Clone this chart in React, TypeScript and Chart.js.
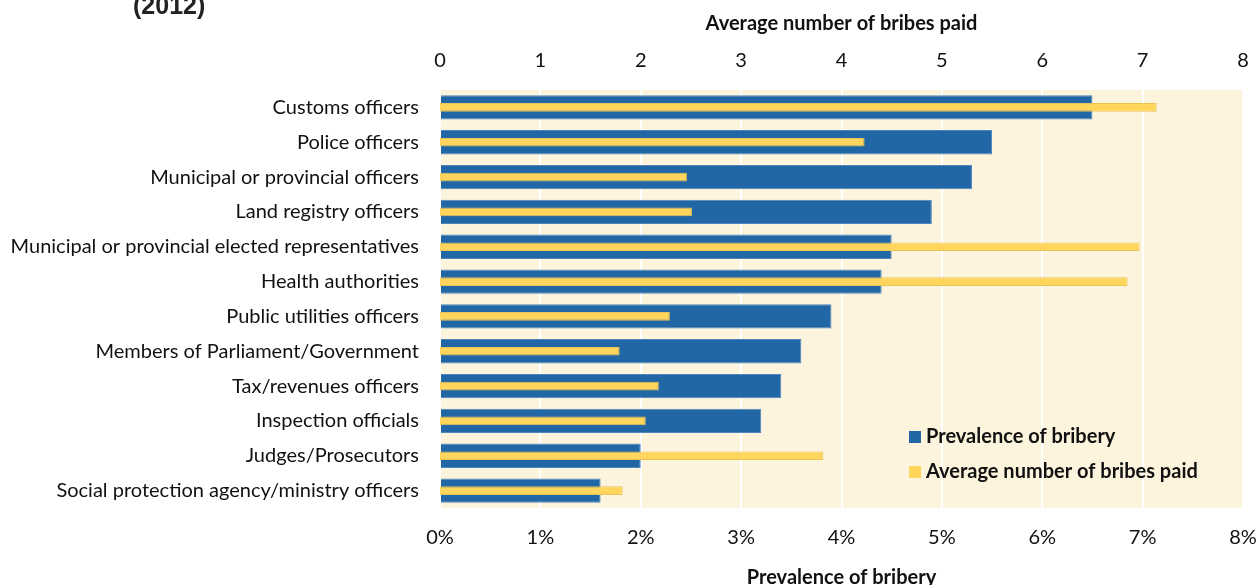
import React, { useEffect, useRef } from "react";
import { Chart, registerables } from "chart.js";

Chart.register(...registerables);

const categories = [
  "Customs officers",
  "Police officers",
  "Municipal or provincial officers",
  "Land registry officers",
  "Municipal or provincial elected representatives",
  "Health authorities",
  "Public utilities officers",
  "Members of Parliament/Government",
  "Tax/revenues officers",
  "Inspection officials",
  "Judges/Prosecutors",
  "Social protection agency/ministry officers",
];

// Prevalence of bribery (%), bottom axis
const prevalence = [6.5, 5.5, 5.3, 4.9, 4.5, 4.4, 3.9, 3.6, 3.4, 3.2, 2.0, 1.6];
// Average number of bribes paid, top axis
const avgBribes = [7.14, 4.23, 2.46, 2.51, 6.97, 6.85, 2.29, 1.79, 2.18, 2.05, 3.82, 1.82];

const seriesNames = ["Prevalence of bribery", "Average number of bribes paid"];
const axisTitles = ["Prevalence of bribery", "Average number of bribes paid"];
const axisMin = 0;
const axisMax = 8;
const subtitle = "(2012)";

const BLUE = "#2166A5";
const YELLOW = "#FFD55C";
const PLOT_BG = "#FDF4DD";
const FONT = "Lato, 'Open Sans', sans-serif";

const bgPlugin = {
  id: "plotBg",
  beforeDraw(chart: any) {
    const { ctx, chartArea } = chart;
    ctx.save();
    ctx.fillStyle = PLOT_BG;
    ctx.fillRect(chartArea.left, chartArea.top, chartArea.right - chartArea.left, chartArea.bottom - chartArea.top);
    ctx.restore();
  },
};

const legendPlugin = {
  id: "innerLegend",
  afterDraw(chart: any) {
    const { ctx, chartArea } = chart;
    const items = [
      { text: seriesNames[0], color: BLUE },
      { text: seriesNames[1], color: YELLOW },
    ];
    const x0 = chartArea.right - 334;
    const y0 = chartArea.bottom - 71;
    ctx.save();
    ctx.font = `bold 20px ${FONT}`;
    ctx.textBaseline = "middle";
    ctx.textAlign = "left";
    items.forEach((it, i) => {
      const cy = y0 + i * 35;
      ctx.fillStyle = it.color;
      ctx.fillRect(x0, cy - 6, 12, 12);
      ctx.fillStyle = "#111";
      ctx.fillText(it.text, x0 + 17, cy);
    });
    ctx.restore();
  },
};

export default function App() {
  const canvasRef = useRef<HTMLCanvasElement | null>(null);

  useEffect(() => {
    document.body.style.margin = "0";
    const canvas = canvasRef.current;
    if (!canvas) return;
    const tickFont = { family: FONT, size: 20 };
    const titleFont = { family: FONT, size: 20, weight: "bold" as const };
    const chart = new Chart(canvas, {
      type: "bar",
      data: {
        labels: categories,
        datasets: [
          {
            label: seriesNames[1],
            data: avgBribes,
            xAxisID: "x2",
            backgroundColor: YELLOW,
            borderColor: "#E9C458",
            borderWidth: 1,
            barPercentage: 0.25,
            categoryPercentage: 1,
            grouped: false,
            order: 0,
          },
          {
            label: seriesNames[0],
            data: prevalence,
            xAxisID: "x",
            backgroundColor: BLUE,
            borderColor: "#4D86BD",
            borderWidth: 1,
            barPercentage: 0.7,
            categoryPercentage: 1,
            grouped: false,
            order: 1,
          },
        ],
      },
      options: {
        indexAxis: "y",
        responsive: false,
        animation: false,
        layout: { padding: { left: 0, right: 16, top: 0, bottom: 0 } },
        plugins: {
          legend: { display: false },
          tooltip: { enabled: false },
          title: { display: false },
        },
        scales: {
          x: {
            type: "linear",
            position: "bottom",
            min: axisMin,
            max: axisMax,
            ticks: {
              stepSize: 1,
              callback: (v: any) => `${v}%`,
              font: tickFont,
              color: "#111",
              padding: 18,
              maxRotation: 0,
            },
            grid: { color: "#ffffff", lineWidth: 2, drawTicks: false },
            border: { display: false },
            title: {
              display: true,
              text: axisTitles[0],
              font: titleFont,
              color: "#111",
              padding: { top: 0, bottom: -5 },
            },
            afterFit(s: any) {
              s.height = 77;
              s.paddingLeft = 0;
              s.paddingRight = 0;
            },
          },
          x2: {
            type: "linear",
            position: "top",
            min: axisMin,
            max: axisMax,
            ticks: {
              stepSize: 1,
              font: tickFont,
              color: "#111",
              padding: 17,
              maxRotation: 0,
            },
            grid: { display: false, drawTicks: false },
            border: { display: false },
            title: {
              display: true,
              text: axisTitles[1],
              font: titleFont,
              color: "#111",
              padding: { top: 12, bottom: 0 },
            },
            afterFit(s: any) {
              s.height = 90;
              s.paddingLeft = 0;
              s.paddingRight = 0;
            },
          },
          y: {
            type: "category",
            grid: { display: false, drawTicks: false },
            border: { display: false },
            ticks: { font: tickFont, color: "#111", padding: 21, autoSkip: false },
            afterFit(s: any) {
              s.width = 440;
              s.paddingTop = 0;
              s.paddingBottom = 0;
            },
          },
        },
      } as any,
      plugins: [bgPlugin, legendPlugin],
    });
    return () => chart.destroy();
  }, []);

  return (
    <div style={{ position: "relative", width: 1259, height: 585, overflow: "hidden" }}>
      <div
        style={{
          position: "absolute",
          left: 133,
          top: -9,
          fontFamily: "'Liberation Sans', Arial, sans-serif",
          fontWeight: "bold",
          fontSize: 25,
          lineHeight: "28px",
          color: "#222",
        }}
      >
        {subtitle}
      </div>
      <canvas ref={canvasRef} width={1259} height={585} style={{ display: "block" }} />
    </div>
  );
}
